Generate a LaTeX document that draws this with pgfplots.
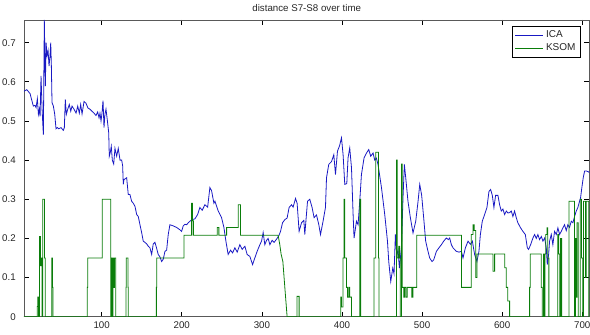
\documentclass[border=0pt]{standalone}
\usepackage{fontspec}
\setmainfont{Liberation Sans}
\usepackage{pgfplots}
\pgfplotsset{compat=1.18}
\definecolor{icacol}{RGB}{25,25,195}
\definecolor{ksomcol}{RGB}{10,125,10}
\begin{document}
\begin{tikzpicture}
\begin{axis}[
  scale only axis,
  width=424.5pt, height=222.75pt,
  xmin=3, xmax=709, ymin=0, ymax=0.758,
  xtick={100,200,...,700},
  ytick={0,0.1,...,0.7},
  tick align=inside,
  major tick length=3.75pt,
  axis line style={black!65, line width=0.6pt},
  tick style={black, line width=0.5pt},
  font=\fontsize{7.3}{8.5}\selectfont,
  /pgf/number format/assume math mode=true,
  /pgf/number format/fixed,
  yticklabel style={xshift=-2.7pt, text=black!85},
  xticklabel style={yshift=0pt, text=black!85},
  title={distance S7-S8 over time},
  every axis title/.style={at={(0.5,1)}, anchor=base, yshift=6pt, font=\fontsize{7.3}{8.5}\selectfont, text=black!85},
  legend style={at={(1,1)}, anchor=north east, xshift=-6.75pt, yshift=-4.5pt,
    draw=black, line width=0.5pt, font=\fontsize{7.5}{8.5}\selectfont, text=black!85,
    inner sep=1.5pt, row sep=-1pt, cells={anchor=west}},
  legend image code/.code={\draw[#1] (0pt,0pt) -- (21pt,0pt);},
]
\addplot[icacol, line width=0.6pt] coordinates {
(3.1,0.576)(6.5,0.58)(10.6,0.57)(13.5,0.547)(14.7,0.538)(16.8,0.54)(18.1,0.534)(19.7,0.557)(21.0,0.517)(22.2,0.53)(23.1,0.512)(24.3,0.615)(25.6,0.53)(27.2,0.465)(28.4,0.758)(29.7,0.589)(30.6,0.70)(31.8,0.666)(33.1,0.68)(34.3,0.64)(35.5,0.666)(36.4,0.70)(37.2,0.64)(38.0,0.547)(39.7,0.538)(41.4,0.517)(43.0,0.48)(44.7,0.483)(46.4,0.48)(49.3,0.483)(52.1,0.476)(53.4,0.483)(54.6,0.555)(55.9,0.517)(57.6,0.53)(59.6,0.542)(61.4,0.525)(63.0,0.538)(65.5,0.53)(68.0,0.52)(70.1,0.538)(72.1,0.52)(73.8,0.542)(75.5,0.518)(78.0,0.55)(80.5,0.545)(82.9,0.533)(85.4,0.53)(87.9,0.525)(90.4,0.52)(92.9,0.514)(95.0,0.523)(96.7,0.508)(97.9,0.52)(99.2,0.50)(100.4,0.52)(101.7,0.552)(102.9,0.483)(104.1,0.517)(105.4,0.53)(107.0,0.503)(108.8,0.47)(109.5,0.41)(110.8,0.42)(112.0,0.435)(113.3,0.40)(115.0,0.39)(116.6,0.43)(118.7,0.41)(120.7,0.43)(122.9,0.40)(125.0,0.40)(126.2,0.385)(127.0,0.338)(127.8,0.35)(131.2,0.355)(133.2,0.312)(135.3,0.312)(137.4,0.295)(139.4,0.29)(141.6,0.282)(143.7,0.261)(145.7,0.256)(147.8,0.235)(149.9,0.215)(151.9,0.193)(154.0,0.19)(156.2,0.186)(158.2,0.18)(160.3,0.176)(162.4,0.159)(164.4,0.186)(166.5,0.19)(168.6,0.175)(170.6,0.159)(172.7,0.153)(174.9,0.141)(176.9,0.147)(179.0,0.167)(181.1,0.17)(183.1,0.21)(185.2,0.235)(189.3,0.232)(193.6,0.228)(197.7,0.222)(199.8,0.218)(201.8,0.232)(203.9,0.236)(206.1,0.235)(208.1,0.24)(210.2,0.244)(213.0,0.248)(216.4,0.25)(219.8,0.261)(222.6,0.279)(225.5,0.272)(228.9,0.286)(232.3,0.28)(235.1,0.33)(237.2,0.322)(240.1,0.29)(241.4,0.295)(245.5,0.27)(249.7,0.253)(252.6,0.228)(255.1,0.193)(257.9,0.159)(260.9,0.17)(263.4,0.163)(266.3,0.176)(269.2,0.165)(272.5,0.184)(275.4,0.172)(278.8,0.18)(281.6,0.159)(285.0,0.154)(288.4,0.133)(291.2,0.15)(294.1,0.167)(297.5,0.184)(299.6,0.193)(301.6,0.215)(303.7,0.184)(305.8,0.195)(307.8,0.2)(310.0,0.184)(312.8,0.195)(315.3,0.19)(318.3,0.198)(321.2,0.207)(323.3,0.218)(325.8,0.24)(328.7,0.248)(331.5,0.252)(334.0,0.279)(337.0,0.286)(339.0,0.28)(342.0,0.302)(344.0,0.29)(346.5,0.218)(349.5,0.24)(352.4,0.246)(353.6,0.21)(357.0,0.295)(359.8,0.30)(362.7,0.279)(365.2,0.253)(368.2,0.26)(371.1,0.235)(373.2,0.21)(376.4,0.244)(379.4,0.279)(380.7,0.355)(383.5,0.389)(386.9,0.396)(389.8,0.414)(391.9,0.363)(394.4,0.423)(396.9,0.436)(399.4,0.457)(401.4,0.414)(403.5,0.338)(406.0,0.34)(407.6,0.406)(409.7,0.431)(411.9,0.38)(413.9,0.261)(415.1,0.201)(418.1,0.244)(420.1,0.235)(422.2,0.295)(424.3,0.363)(427.6,0.406)(430.6,0.418)(433.4,0.427)(435.9,0.41)(438.8,0.418)(440.9,0.40)(443.0,0.405)(445.0,0.389)(449.3,0.33)(453.4,0.261)(456.8,0.193)(458.4,0.141)(460.9,0.09)(463.4,0.124)(465.0,0.11)(466.7,0.21)(468.4,0.159)(470.0,0.17)(471.7,0.124)(474.2,0.176)(476.2,0.304)(477.9,0.389)(479.6,0.355)(482.4,0.295)(485.4,0.253)(488.7,0.214)(492.1,0.244)(495.0,0.295)(497.1,0.338)(499.5,0.31)(502.0,0.253)(504.5,0.193)(507.4,0.167)(509.5,0.15)(512.4,0.141)(514.5,0.145)(517.9,0.167)(521.1,0.176)(524.1,0.184)(527.0,0.193)(530.3,0.201)(532.8,0.197)(534.5,0.201)(536.6,0.184)(538.6,0.176)(542.8,0.167)(546.1,0.165)(549.1,0.167)(551.1,0.15)(554.1,0.176)(557.4,0.193)(560.3,0.185)(562.8,0.193)(565.6,0.159)(568.5,0.141)(571.0,0.167)(572.8,0.21)(575.2,0.244)(578.1,0.261)(581.0,0.279)(583.5,0.32)(585.6,0.325)(587.7,0.31)(589.7,0.279)(591.8,0.31)(594.7,0.31)(596.8,0.286)(598.9,0.27)(600.9,0.275)(603.1,0.261)(605.2,0.27)(607.2,0.265)(609.3,0.266)(611.4,0.27)(613.4,0.256)(615.5,0.27)(617.6,0.253)(619.6,0.24)(623.0,0.227)(625.9,0.218)(628.9,0.21)(631.4,0.176)(633.0,0.172)(635.5,0.184)(638.4,0.201)(640.5,0.21)(642.6,0.2)(644.6,0.21)(646.7,0.197)(648.9,0.205)(650.9,0.193)(653.0,0.201)(655.1,0.176)(656.3,0.133)(658.0,0.159)(659.2,0.193)(661.3,0.21)(663.3,0.184)(665.4,0.218)(667.6,0.21)(669.6,0.227)(671.7,0.21)(673.8,0.218)(675.8,0.227)(677.9,0.235)(680.0,0.22)(682.0,0.235)(684.1,0.228)(686.3,0.244)(688.3,0.24)(690.4,0.256)(692.5,0.27)(694.5,0.279)(696.6,0.295)(697.9,0.304)(699.5,0.33)(701.2,0.355)(702.9,0.372)(705.4,0.372)(707.9,0.37)(709,0.368)
};
\addlegendentry{ICA}
\addplot[ksomcol, line width=0.6pt] coordinates {
(3,0)(19.5,0)(19.5,0.026)(20.3,0.026)(20.3,0.05)(21.2,0.05)(21.2,0)(22.5,0)(22.5,0.205)(23.5,0.205)(23.5,0.13)(24.5,0.13)(24.5,0.15)(25.5,0.15)(25.5,0)(26.5,0)(26.5,0.3)(28.5,0.3)(28.5,0.15)(29.5,0.15)(29.5,0)
(37.7,0)(37.7,0.15)(38.5,0.15)(38.5,0.075)(39.3,0.075)(39.3,0)
(82,0)(82,0.075)(82.6,0.075)(82.6,0.15)(100.8,0.15)(100.8,0.3)(111.3,0.3)(111.3,0)(112.5,0)(112.5,0.15)(113.5,0.15)(113.5,0)(114.1,0)(114.1,0.15)(115.4,0.15)(115.4,0.075)(116,0.075)(116,0.15)(117.5,0.15)(117.5,0)
(130.3,0)(130.3,0.075)(130.7,0.075)(130.7,0.15)(132.8,0.15)(132.8,0.075)(133.2,0.075)(133.2,0)
(168.3,0)(168.3,0.075)(168.8,0.075)(168.8,0.15)(202.7,0.15)(202.7,0.208)(212.3,0.208)(212.3,0.29)(213.3,0.29)(213.3,0.245)(214.5,0.245)(214.5,0.208)
(244.2,0.208)(244.2,0.228)(246.3,0.228)(246.3,0.208)(256,0.208)(256,0.228)(270.4,0.228)(270.4,0.286)(273.4,0.286)(273.4,0.208)(320.3,0.208)(322.4,0.184)(324,0.16)(326.2,0.141)(328.7,0.074)(331.5,0)
(343.8,0)(343.8,0.052)(346.5,0.052)(346.5,0)
(398.5,0)(398.5,0.05)(399.5,0.05)(399.5,0.025)(401.4,0.025)(401.4,0.15)(402.6,0.15)(402.6,0.3)(403.5,0.3)(403.5,0.15)(405.6,0.15)(405.6,0.075)(406.9,0.075)(406.9,0.05)(408.5,0.05)(408.5,0.075)(409.7,0.075)(409.7,0.05)(411.9,0.05)(411.9,0)
(422.2,0)(422.2,0.3)(423.5,0.3)(423.5,0)
(440,0)(440,0.15)(442.2,0.15)(442.2,0.42)(445.5,0.42)(445.5,0.15)(446.3,0.15)(446.3,0)
(468,0)(468,0.40)(469,0.40)(469,0.15)(470.9,0.15)(470.9,0.18)(472.1,0.18)(472.1,0.15)(472.7,0.15)(472.7,0)(474.2,0)(474.2,0.39)(475.2,0.39)(475.2,0.075)(477.1,0.075)(477.1,0.05)(478.5,0.05)(478.5,0.075)(480,0.075)(480,0.05)(481.5,0.05)(481.5,0.075)(487,0.075)(487,0.05)(488.5,0.05)(488.5,0.075)(493.3,0.075)(493.3,0.208)(549.1,0.208)(549.1,0.075)
(561.5,0.075)(561.5,0.21)(563.5,0.21)(563.5,0.235)(565,0.235)(565,0.22)(566.9,0.22)(566.9,0.1)(568.5,0.1)(568.5,0.16)(588.5,0.16)(588.5,0.116)(590.6,0.116)(590.6,0.16)(603.1,0.16)(603.1,0.125)(605.2,0.125)(605.2,0.075)(607,0.075)(607,0.04)(609.3,0.04)(609.3,0)
(634.3,0)(634.3,0.075)(635,0.075)(635,0.16)(648.9,0.16)(648.9,0.075)(650.1,0.075)(650.1,0)
(651.7,0)(651.7,0.16)(652.5,0.16)(652.5,0)(653.5,0)(653.5,0.16)(654.3,0.16)(654.3,0.21)(656,0.21)(656,0.227)(657,0.227)(657,0.15)(658.3,0.15)(658.3,0)
(669.5,0)(669.5,0.21)(670.5,0.21)(670.5,0.16)(672,0.16)(672,0)(673,0)(673,0.2)(674.5,0.2)(674.5,0)
(683.5,0)(683.5,0.295)(690.4,0.295)(690.4,0)(691.5,0)(691.5,0.2)(692.5,0.2)(692.5,0.05)(693.5,0.05)(693.5,0.24)(695,0.24)(695,0)(697.5,0)(697.5,0.3)(699,0.3)(699,0.15)(700.5,0.15)(700.5,0)(701.6,0)(701.6,0.295)(704,0.295)(704,0.1)(705,0.1)(705,0.295)(708,0.295)(708,0)(709,0)
};
\addlegendentry{KSOM}
\end{axis}
\pgfresetboundingbox
\path ([shift={(-18pt,-13.5pt)}]current axis.south west) rectangle ([shift={(0.4pt,15pt)}]current axis.north east);
\end{tikzpicture}
\end{document}
